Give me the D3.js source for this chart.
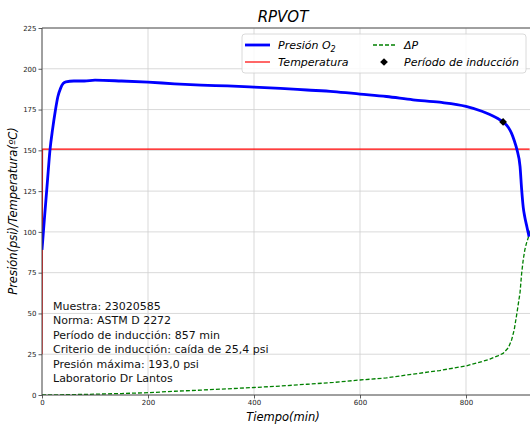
<!DOCTYPE html>
<html>
<head>
<meta charset="utf-8">
<script src="https://cdn.jsdelivr.net/npm/d3@7"></script>
<style>
  body { margin: 0; background: #fff; }
  svg { font-family: "DejaVu Sans", sans-serif; }
</style>
</head>
<body>
<div id="chart"></div>
<script>
// datos
const presTime = [0, 5, 10, 15, 20, 25, 30, 35, 40, 45, 60, 80, 100, 150, 200, 250, 300, 350, 400, 450, 500, 550, 600, 650, 700, 750, 800, 830, 845, 860, 870, 880, 886, 891, 896, 902, 905, 908, 911, 915, 919];
const presValues = [89, 110, 130, 150, 163, 174, 183, 188, 191, 192, 192.5, 192.5, 193, 192.5, 191.8, 190.8, 190, 189.5, 188.8, 188, 187, 186, 184.5, 183, 181, 179.5, 177, 174, 172, 169.5, 167.4, 164, 160.4, 156, 150.6, 140, 126, 115, 109, 103, 97];

const tempTime = [0, 1, 100, 300, 500, 700, 920];
const tempValues = [25, 150.8, 150.8, 150.8, 150.8, 150.8, 150.8];

const dpTime = [0, 50, 100, 150, 200, 250, 300, 350, 400, 450, 500, 550, 600, 650, 700, 750, 800, 830, 845, 860, 870, 880, 886, 891, 896, 902, 905, 908, 911, 914, 918, 921];
const dpValues = [0, 0.2, 0.5, 0.9, 1.4, 2.3, 3, 3.8, 4.6, 5.5, 6.6, 7.7, 9.2, 10.5, 12.8, 15, 17.8, 20.5, 22, 24, 25.5, 29, 33.7, 40, 50, 63, 74.6, 83, 89, 93, 97, 101];

const inductionPoint = [870, 167.4];

const xTicks = [0, 200, 400, 600, 800];
const yTicks = [0, 25, 50, 75, 100, 125, 150, 175, 200, 225];

const infoLines = [
  "Muestra: 23020585",
  "Norma: ASTM D 2272",
  "Período de inducción: 857 min",
  "Criterio de inducción: caída de 25,4 psi",
  "Presión máxima: 193,0 psi",
  "Laboratorio Dr Lantos"
];

const width = 530, height = 425;
const mLeft = 42, mTop = 28, mBottom = 395, mRight = 540;

const svg = d3.select("#chart").append("svg")
  .attr("width", width).attr("height", height);

const x = d3.scaleLinear().domain([0, 800]).range([mLeft, 466]);
const y = d3.scaleLinear().domain([0, 225]).range([mBottom, mTop]);

// grid
svg.append("g").selectAll("line").data(xTicks).enter().append("line")
  .attr("x1", d => x(d)).attr("x2", d => x(d))
  .attr("y1", mTop).attr("y2", mBottom)
  .attr("stroke", "#cfcfcf").attr("stroke-width", 0.8);
svg.append("g").selectAll("line").data(yTicks).enter().append("line")
  .attr("x1", mLeft).attr("x2", mRight)
  .attr("y1", d => y(d)).attr("y2", d => y(d))
  .attr("stroke", "#cfcfcf").attr("stroke-width", 0.8);

// ejes
const xAxis = svg.append("g").attr("transform", `translate(0,${mBottom})`)
  .call(d3.axisBottom(x).tickValues(xTicks).tickSize(3.5).tickPadding(2));
const yAxis = svg.append("g").attr("transform", `translate(${mLeft},0)`)
  .call(d3.axisLeft(y).tickValues(yTicks).tickSize(3.5).tickPadding(2));
[xAxis, yAxis].forEach(a => {
  a.select(".domain").remove();
  a.selectAll("text").attr("font-size", 7).attr("fill", "#222").attr("font-family", "DejaVu Sans");
  a.selectAll("line").attr("stroke", "#333").attr("stroke-width", 0.8);
});

svg.append("clipPath").attr("id", "clip").append("rect")
  .attr("x", mLeft).attr("y", mTop).attr("width", mRight - mLeft).attr("height", mBottom - mTop);

const plot = svg.append("g").attr("clip-path", "url(#clip)");
const line = d3.line().x(d => x(d[0])).y(d => y(d[1]));

plot.append("path").datum(d3.zip(dpTime, dpValues))
  .attr("d", line).attr("fill", "none")
  .attr("stroke", "#008000").attr("stroke-width", 1.3).attr("stroke-dasharray", "4,2");

plot.append("path").datum(d3.zip(tempTime, tempValues))
  .attr("d", line).attr("fill", "none")
  .attr("stroke", "#ff0000").attr("stroke-width", 1.2);

plot.append("path").datum(d3.zip(presTime, presValues))
  .attr("d", d3.line().curve(d3.curveMonotoneX).x(d => x(d[0])).y(d => y(d[1])))
  .attr("fill", "none")
  .attr("stroke", "#0000ff").attr("stroke-width", 2.8);

const diamond = d3.symbol().type(d3.symbolDiamond2).size(38);
plot.append("path").attr("d", diamond)
  .attr("transform", `translate(${x(inductionPoint[0])},${y(inductionPoint[1])})`)
  .attr("fill", "#000");

// bordes
svg.append("line").attr("x1", mLeft).attr("x2", mLeft).attr("y1", mTop).attr("y2", mBottom)
  .attr("stroke", "#444").attr("stroke-width", 0.9);
svg.append("line").attr("x1", mLeft).attr("x2", mRight).attr("y1", mBottom).attr("y2", mBottom)
  .attr("stroke", "#444").attr("stroke-width", 0.9);
svg.append("line").attr("x1", mLeft).attr("x2", mRight).attr("y1", mTop).attr("y2", mTop)
  .attr("stroke", "#444").attr("stroke-width", 0.9);

// titulos
svg.append("text").attr("x", 283).attr("y", 22).attr("text-anchor", "middle")
  .attr("font-size", 15).attr("font-style", "italic").text("RPVOT");
svg.append("text").attr("x", 283).attr("y", 421).attr("text-anchor", "middle")
  .attr("font-size", 11.5).attr("font-style", "italic").text("Tiempo(min)");
svg.append("text").attr("transform", "translate(17,211) rotate(-90)").attr("text-anchor", "middle")
  .attr("font-size", 11.5).attr("font-style", "italic").text("Presión(psi)/Temperatura(ºC)");

// caja de texto
svg.append("g").selectAll("text").data(infoLines).enter().append("text")
  .attr("x", 53).attr("y", (d, i) => 310 + i * 14.4)
  .attr("font-size", 11).attr("fill", "#111").text(d => d);

// leyenda
const lg = svg.append("g");
lg.append("rect").attr("x", 242).attr("y", 34).attr("width", 284).attr("height", 39)
  .attr("rx", 3).attr("fill", "#fff").attr("fill-opacity", 0.85)
  .attr("stroke", "#d0d0d0").attr("stroke-width", 0.8);
lg.append("line").attr("x1", 245).attr("x2", 270).attr("y1", 45).attr("y2", 45)
  .attr("stroke", "#0000ff").attr("stroke-width", 2.8);
lg.append("line").attr("x1", 245).attr("x2", 270).attr("y1", 62).attr("y2", 62)
  .attr("stroke", "#ff0000").attr("stroke-width", 1.2);
lg.append("line").attr("x1", 373).attr("x2", 396).attr("y1", 45).attr("y2", 45)
  .attr("stroke", "#008000").attr("stroke-width", 1.3).attr("stroke-dasharray", "4,2");
lg.append("path").attr("d", diamond).attr("transform", "translate(384,62)").attr("fill", "#000");
const t1 = lg.append("text").attr("x", 278).attr("y", 49).attr("font-size", 11).attr("font-style", "italic");
t1.append("tspan").text("Presión O");
t1.append("tspan").attr("font-size", 8).attr("dy", 3).text("2");
lg.append("text").attr("x", 278).attr("y", 66).attr("font-size", 11).attr("font-style", "italic").text("Temperatura");
lg.append("text").attr("x", 404).attr("y", 49).attr("font-size", 11).attr("font-style", "italic").text("ΔP");
lg.append("text").attr("x", 404).attr("y", 66).attr("font-size", 11).attr("font-style", "italic").text("Período de inducción");
</script>
</body>
</html>
